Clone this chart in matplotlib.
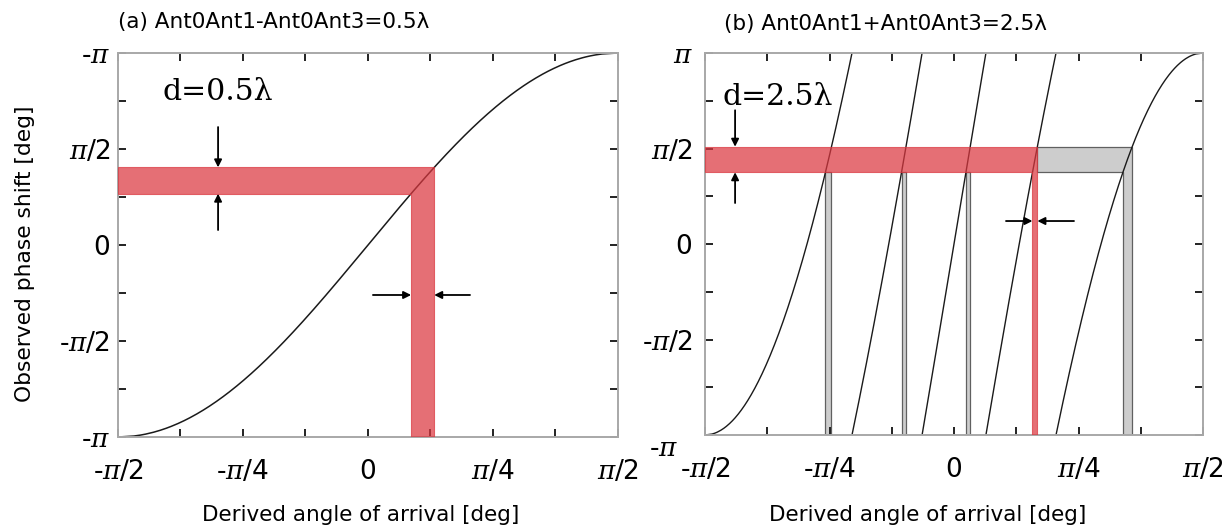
import numpy as np
import matplotlib
matplotlib.use('Agg')
import matplotlib.pyplot as plt
from matplotlib.patches import Polygon
from matplotlib.transforms import ScaledTranslation

plt.rcParams['font.family'] = ['DejaVu Sans']
plt.rcParams['mathtext.fontset'] = 'custom'
plt.rcParams['mathtext.rm'] = 'DejaVu Sans'
plt.rcParams['mathtext.it'] = 'DejaVu Serif:italic'

PI = np.pi

# antenna spacing (wavelengths) for each panel
spacing_a = 0.5
spacing_b = 2.5

titles = ['(a) Ant0Ant1-Ant0Ant3=0.5λ', '(b) Ant0Ant1+Ant0Ant3=2.5λ']
d_labels = ['d=0.5λ', 'd=2.5λ']
xlabel = 'Derived angle of arrival [deg]'
ylabel = 'Observed phase shift [deg]'

x_tick_vals = [-PI/2, -3*PI/8, -PI/4, -PI/8, 0, PI/8, PI/4, 3*PI/8, PI/2]
x_tick_labels = ['-$\\pi$/2', '', '-$\\pi$/4', '', '0', '', '$\\pi$/4', '', '$\\pi$/2']
y_tick_vals = [-PI, -3*PI/4, -PI/2, -PI/4, 0, PI/4, PI/2, 3*PI/4, PI]
y_tick_labels_a = ['-$\\pi$', '', '-$\\pi$/2', '', '0', '', '$\\pi$/2', '', '-$\\pi$']
y_tick_labels_b = ['-$\\pi$', '', '-$\\pi$/2', '', '0', '', '$\\pi$/2', '', '$\\pi$']

# observed phase uncertainty bands (rad)
band_a = [0.84, 1.27]
band_b = [1.18, 1.60]
# angle strips (rad)
strip_a = [0.271, 0.416]
strips_b = [(-0.811, -0.773), (-0.331, -0.303), (0.075, 0.102), (0.495, 0.526), (1.065, 1.123)]
true_strip_b = 3  # index of the red (true) strip

# arrows: (tail, head) in data coords
arrows_a = [((-0.942, 1.93), (-0.942, 1.27)), ((-0.942, 0.245), (-0.942, 0.84)),
            ((0.031, -0.818), (0.271, -0.818)), ((0.641, -0.818), (0.416, -0.818))]
arrows_b = [((-1.381, 2.20), (-1.381, 1.60)), ((-1.381, 0.674), (-1.381, 1.18)),
            ((0.328, 0.378), (0.495, 0.378)), ((0.757, 0.378), (0.526, 0.378))]

RED = (0.86, 0.22, 0.25)
RED_ALPHA = 0.72

W, H = 1222, 530
fig = plt.figure(figsize=(W/100, H/100), dpi=100)
ax_a = fig.add_axes([118/W, 1-437/H, 500/W, 384/H])
ax_b = fig.add_axes([705/W, 1-435/H, 498/W, 382/H])


def style(ax, ylabels, ypad):
    ax.set_xlim(-PI/2, PI/2)
    ax.set_ylim(-PI, PI)
    ax.set_xticks(x_tick_vals)
    ax.set_xticklabels(x_tick_labels)
    ax.set_yticks(y_tick_vals)
    ax.set_yticklabels(ylabels)
    ax.tick_params(direction='in', length=6, width=1.4, color='#222222',
                   top=True, right=True, labelsize=19)
    ax.tick_params(axis='x', pad=16)
    ax.tick_params(axis='y', pad=ypad)
    for s in ax.spines.values():
        s.set_color('#a8a8a8')
        s.set_linewidth(1.4)


def branches(d):
    # segments of the wrapped phase 2*pi*d*sin(theta)
    segs = []
    n = int(np.ceil(d)) + 1
    for k in range(-n, n + 1):
        lo = max(-1.0, (2*k - 1) / (2*d))
        hi = min(1.0, (2*k + 1) / (2*d))
        if lo >= hi:
            continue
        th = np.arcsin(np.linspace(lo, hi, 400))
        ph = 2*PI*d*np.sin(th) - 2*PI*k
        segs.append((th, ph))
    return segs


def draw_arrows(ax, arrows):
    for tail, head in arrows:
        ax.annotate('', xy=head, xytext=tail,
                    arrowprops=dict(arrowstyle='-|>', color='black', lw=1.3,
                                    mutation_scale=11, shrinkA=0, shrinkB=0))


# ---------- panel (a) ----------
style(ax_a, y_tick_labels_a, 5.5)
for th, ph in branches(spacing_a):
    ax_a.plot(th, ph, color='#1a1a1a', lw=1.1, zorder=2)
poly = Polygon([(-PI/2, band_a[1]), (strip_a[1], band_a[1]), (strip_a[1], -PI),
                (strip_a[0], -PI), (strip_a[0], band_a[0]), (-PI/2, band_a[0])],
               closed=True, facecolor=RED, alpha=RED_ALPHA, edgecolor=RED, lw=0.8, zorder=3)
ax_a.add_patch(poly)
draw_arrows(ax_a, arrows_a)
ax_a.text(0.088, 0.8776, d_labels[0], transform=ax_a.transAxes, family='DejaVu Serif',
          fontsize=21.5, ha='left', va='baseline')

# ---------- panel (b) ----------
style(ax_b, y_tick_labels_b, 9)
# bottom -pi label sits lower-left in the reference
lbl = ax_b.get_yticklabels()[0]
lbl.set_transform(lbl.get_transform() + ScaledTranslation(-14/100, -11/100, fig.dpi_scale_trans))

GREY = '#cdcdcd'
GREY_EDGE = '#606060'
for i, (lo, hi) in enumerate(strips_b):
    if i in (true_strip_b, len(strips_b) - 1):
        continue
    ax_b.add_patch(Polygon([(lo, -PI), (hi, -PI), (hi, band_b[0]), (lo, band_b[0])], closed=True,
                           facecolor=GREY, edgecolor=GREY_EDGE, lw=0.9, zorder=1))
t_lo, t_hi = strips_b[true_strip_b]
l_lo, l_hi = strips_b[-1]
ax_b.add_patch(Polygon([(t_hi, band_b[1]), (l_hi, band_b[1]), (l_hi, -PI), (l_lo, -PI),
                        (l_lo, band_b[0]), (t_hi, band_b[0])], closed=True,
                       facecolor=GREY, edgecolor=GREY_EDGE, lw=0.9, zorder=1))
for th, ph in branches(spacing_b):
    ax_b.plot(th, ph, color='#1a1a1a', lw=1.0, zorder=2)
ax_b.add_patch(Polygon([(-PI/2, band_b[1]), (t_hi, band_b[1]), (t_hi, -PI), (t_lo, -PI),
                        (t_lo, band_b[0]), (-PI/2, band_b[0])], closed=True,
                       facecolor=RED, alpha=RED_ALPHA, edgecolor=RED, lw=0.8, zorder=3))
draw_arrows(ax_b, arrows_b)
ax_b.text(0.036, 0.8639, d_labels[1], transform=ax_b.transAxes, family='DejaVu Serif',
          fontsize=21.5, ha='left', va='baseline')

# titles and axis labels
fig.text(118/W, 1-22/H, titles[0], fontsize=15.5, ha='left', va='center')
fig.text(724/W, 1-24/H, titles[1], fontsize=15.5, ha='left', va='center')
fig.text(361/W, 1-515/H, xlabel, fontsize=15.5, ha='center', va='center')
fig.text(928/W, 1-515/H, xlabel, fontsize=15.5, ha='center', va='center')
fig.text(25/W, 1-254/H, ylabel, fontsize=15.7, ha='center', va='center', rotation=90)

fig.savefig('out.png', dpi=100)
